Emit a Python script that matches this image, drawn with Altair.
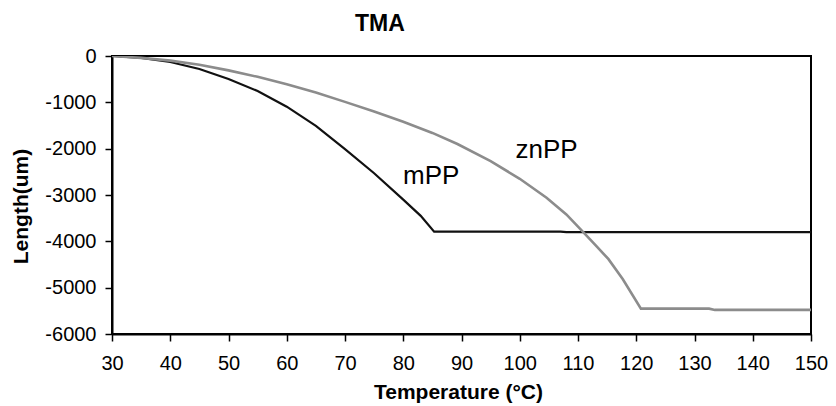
import altair as alt
import pandas as pd

# mPP (black) series
mpp_temp = [30, 35, 40, 45, 50, 55, 60, 65, 70, 75, 80, 83, 85.3, 107, 108, 150]
mpp_len = [0, -40, -130, -280, -497, -755, -1094, -1506, -2008, -2530, -3100, -3450, -3790, -3790, -3800, -3800]

# znPP (grey) series
zn_temp = [30, 35, 40, 45, 50, 55, 60, 65, 70, 75, 80, 85, 89.3, 95, 100, 104.6, 108, 110.9, 113.2, 115.2, 117.7, 120.8, 132.5, 133.5, 150]
zn_len = [0, -40, -100, -190, -310, -450, -610, -790, -990, -1200, -1420, -1660, -1900, -2270, -2650, -3060, -3420, -3800, -4110, -4380, -4820, -5453, -5453, -5480, -5480]

# in-plot labels
label_text = ["mPP", "znPP"]
label_temp = [84.8, 104.6]
label_len = [-2600, -2020]

x_ticks = list(range(30, 151, 10))
y_ticks = [0, -1000, -2000, -3000, -4000, -5000, -6000]

FONT = "Liberation Sans"

df = pd.concat([
    pd.DataFrame({"T": mpp_temp, "L": mpp_len, "s": "mPP"}),
    pd.DataFrame({"T": zn_temp, "L": zn_len, "s": "znPP"}),
])
lab = pd.DataFrame({"text": label_text, "T": label_temp, "L": label_len})

xs = alt.Scale(domain=[30, 150], nice=False, zero=False)
ys = alt.Scale(domain=[-6000, 0], nice=False, zero=False)

x_axis = alt.Axis(
    values=x_ticks, title="Temperature (°C)", grid=False, labelFlush=False,
    domainColor="black", domainWidth=2, tickColor="black", tickWidth=1.5, tickSize=7,
    labelFont=FONT, labelFontSize=20, labelColor="black", labelPadding=12,
    titleFont=FONT, titleFontSize=21, titleFontWeight="bold", titleColor="black",
    titleX=346, titleY=64, titleAlign="center", titleBaseline="alphabetic",
)
y_axis = alt.Axis(
    values=y_ticks, title="Length(um)", grid=False, labelFlush=False,
    labelExpr="datum.value < 0 ? '-' + abs(datum.value) : '' + datum.value",
    domainColor="black", domainWidth=2, tickColor="black", tickWidth=1.5, tickSize=7,
    labelFont=FONT, labelFontSize=20, labelColor="black", labelPadding=9,
    titleFont=FONT, titleFontSize=21, titleFontWeight="bold", titleColor="black",
    titleAngle=-90, titleX=-85, titleY=150, titleAlign="center", titleBaseline="alphabetic",
)

lines = alt.Chart(df).mark_line(clip=True).encode(
    x=alt.X("T:Q", scale=xs, axis=x_axis),
    y=alt.Y("L:Q", scale=ys, axis=y_axis),
    color=alt.Color("s:N", scale=alt.Scale(domain=["mPP", "znPP"], range=["#111111", "#8c8c8c"]), legend=None),
    strokeWidth=alt.StrokeWidth("s:N", scale=alt.Scale(domain=["mPP", "znPP"], range=[2.2, 2.6]), legend=None),
    detail="s:N",
)

texts = alt.Chart(lab).mark_text(font=FONT, fontSize=26, color="black", align="center", baseline="middle").encode(
    x=alt.X("T:Q", scale=xs),
    y=alt.Y("L:Q", scale=ys),
    text="text:N",
)

chart = (lines + texts).properties(
    width=699, height=278,
    autosize=alt.AutoSizeParams(type="none"),
    padding={"left": 104, "top": 48, "right": 17, "bottom": 70},
    title=alt.TitleParams("TMA", anchor="start", frame="group", dx=243, font=FONT, fontSize=23,
                          fontWeight="bold", color="black", offset=10),
    background="white",
).configure_view(stroke="black", strokeWidth=2)

chart.save("out.html", embed_options={"renderer": "svg", "actions": False})
